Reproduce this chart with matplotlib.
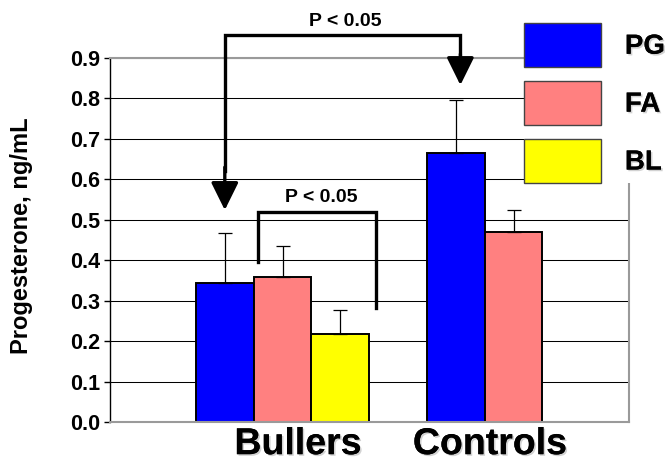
import numpy as np
import matplotlib
matplotlib.use("Agg")
import matplotlib.pyplot as plt
import matplotlib.patheffects as pe

plt.rcParams['font.family'] = ['Liberation Sans', 'DejaVu Sans']
plt.rcParams['font.weight'] = 'bold'

# data
groups = ["Bullers", "Controls"]
series = ["PG", "FA", "BL"]
colors = ["#0000FF", "#FF8080", "#FFFF00"]
values = {
    "PG": [0.343, 0.664],
    "FA": [0.358, 0.471],
    "BL": [0.218, np.nan],
}
errors = {
    "PG": [0.124, 0.131],
    "FA": [0.076, 0.053],
    "BL": [0.059, np.nan],
}
yticks = [0.0, 0.1, 0.2, 0.3, 0.4, 0.5, 0.6, 0.7, 0.8, 0.9]
p_text = "P < 0.05"

shadow = [pe.withSimplePatchShadow(offset=(1.2, -1.2), shadow_rgbFace='gray', alpha=0.35), pe.Normal()]

fig = plt.figure(figsize=(6.69, 4.66), dpi=100)
ax = fig.add_axes([110 / 669, 44 / 466, 519 / 669, 364 / 466])

pos = np.arange(len(groups))
w = 0.25
bars = []
for i, s in enumerate(series):
    x = pos + (i - 1) * w
    b = ax.bar(x, values[s], w, color=colors[i], edgecolor='black', linewidth=1.4, zorder=2, label=s)
    bars.append(b)
    ax.errorbar(x, values[s], yerr=[np.zeros(len(groups)), errors[s]], fmt='none',
                ecolor='black', elinewidth=0.9, capsize=5, capthick=0.9, zorder=3)

ax.set_xlim(-0.747, 1.5)
ax.set_ylim(0, 0.9)
ax.set_yticks(yticks)
ax.set_yticklabels([f"{t:.1f}" for t in yticks], fontsize=15.5, fontweight='bold')
ax.tick_params(axis='y', length=4, width=1, pad=3, color='black')
ax.set_xticks([0.067, 0.898])
ax.set_xticklabels(groups, fontsize=27, fontweight='bold')
for lab in ax.get_xticklabels():
    lab.set_path_effects(shadow)
ax.tick_params(axis='x', length=0, pad=3)

ax.set_axisbelow(True)
ax.yaxis.grid(True, color='black', linewidth=0.75)
ax.spines['left'].set_color('black')
ax.spines['left'].set_linewidth(1)
for sp in ['top', 'right', 'bottom']:
    ax.spines[sp].set_color('#9a9a9a')
    ax.spines[sp].set_linewidth(1.5)
ax.spines['bottom'].set_zorder(4)

fig.text(22 / 669, 0.495, "Progesterone, ng/mL", rotation=90, fontsize=17,
         fontweight='bold', ha='center', va='center')

# significance brackets
lw = 2.4
arrow_kw = dict(arrowstyle='-|>,head_length=0.85,head_width=0.42', color='black',
                lw=lw, mutation_scale=20, shrinkA=0, shrinkB=0)
xb = pos[0] - w
xc = pos[1] - w + 0.02
ytop = 0.957
ax.plot([xb, xb, xc, xc], [0.62, ytop, ytop, 0.9], color='black', lw=lw,
        clip_on=False, solid_joinstyle='miter', zorder=5)
ax.annotate('', xy=(xb, values["PG"][0] + errors["PG"][0] + 0.057), xytext=(xb, 0.63),
            arrowprops=arrow_kw, annotation_clip=False, zorder=5)
ax.annotate('', xy=(xc, values["PG"][1] + errors["PG"][1] + 0.038), xytext=(xc, 0.91),
            arrowprops=arrow_kw, annotation_clip=False, zorder=5)
ax.text((xb + xc) / 2 + 0.01, 0.99, p_text, fontsize=14, fontweight='bold',
        ha='center', va='center', clip_on=False)

xl = pos[0] - 0.108
xr = pos[0] + 0.403
ys = 0.519
ax.plot([xl, xl, xr, xr], [0.396, ys, ys, 0.282], color='black', lw=lw,
        clip_on=False, solid_joinstyle='miter', zorder=5)
ax.text((xl + xr) / 2 + 0.02, 0.555, p_text, fontsize=14, fontweight='bold',
        ha='center', va='center')

leg = fig.legend(handles=bars, labels=series, loc='upper left',
                 bbox_to_anchor=(524 / 669, 1 - 23 / 466), prop={'size': 20, 'weight': 'bold'},
                 handlelength=2.77, handleheight=2.06, labelspacing=0.5, handletextpad=0.86,
                 borderpad=0, borderaxespad=0, frameon=True, fancybox=False)
leg.get_frame().set_facecolor('white')
leg.get_frame().set_edgecolor('none')
leg.get_frame().set_alpha(1)
for p in leg.get_patches():
    p.set_edgecolor('#444444')
    p.set_linewidth(1)
for t in leg.get_texts():
    t.set_path_effects(shadow)

fig.savefig("out.png", dpi=100)
